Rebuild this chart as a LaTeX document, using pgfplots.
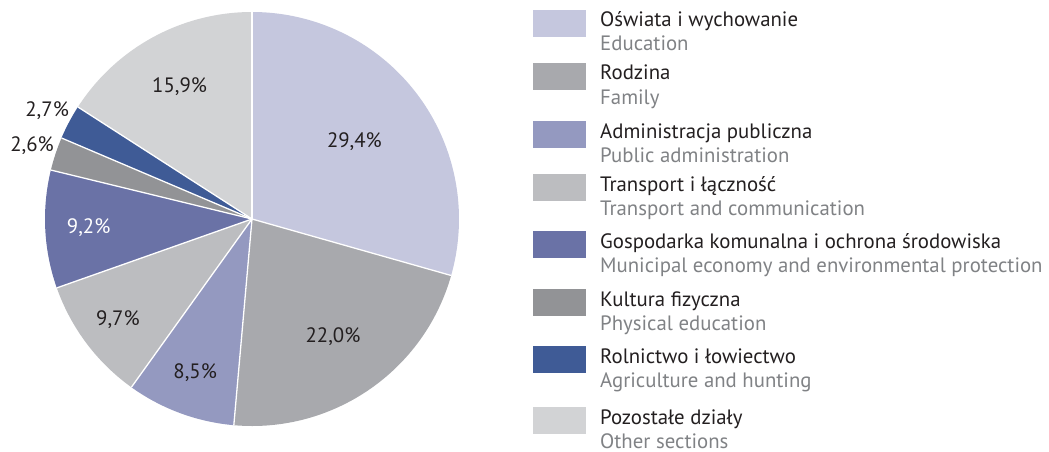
\documentclass[border=0pt]{standalone}
\usepackage{fontspec}
\setmainfont{PT Sans}
\usepackage{pgfplots}
\usepackage{pgfplotstable}
\pgfplotsset{compat=1.18}

\definecolor{cEdu}{HTML}{C5C7DE}
\definecolor{cFam}{HTML}{A8A9AD}
\definecolor{cAdm}{HTML}{9499C0}
\definecolor{cTra}{HTML}{BCBDC0}
\definecolor{cMun}{HTML}{6A72A6}
\definecolor{cPhy}{HTML}{929396}
\definecolor{cAgr}{HTML}{3F5B96}
\definecolor{cOth}{HTML}{D2D3D5}
\definecolor{tdark}{HTML}{231F20}
\definecolor{tgray}{HTML}{808285}

% share (%), fill, label colour, label radius (fraction of pie radius)
\pgfplotstableread{
val  col  tc    r
29.4 cEdu tdark 0.62
22.0 cFam tdark 0.69
8.5  cAdm tdark 0.79
9.7  cTra tdark 0.81
9.2  cMun white 0.79
2.6  cPhy tdark 1.12
2.7  cAgr tdark 1.12
15.9 cOth tdark 0.73
}\piedata

\begin{document}
\fontsize{20.8}{25}\selectfont
\begin{tikzpicture}
\useasboundingbox (0,0) rectangle (1049pt,-452pt);

\begin{axis}[
  at={(252pt,-219pt)}, anchor=center,
  x=207pt, y=207pt,
  xmin=-1, xmax=1, ymin=-1, ymax=1,
  hide axis, clip=false,
]
% wedges, clockwise from 12 o'clock
\def\a{90}
\pgfplotsforeachungrouped \i in {0,...,7}{%
  \pgfplotstablegetelem{\i}{val}\of\piedata \let\v\pgfplotsretval
  \pgfplotstablegetelem{\i}{col}\of\piedata \let\c\pgfplotsretval
  \pgfmathsetmacro\b{\a-3.6*\v}
  \pgfmathsetmacro\xa{cos(\a)}
  \pgfmathsetmacro\ya{sin(\a)}
  \edef\tmp{\noexpand\fill[\c] (axis cs:0,0) -- (axis cs:\xa,\ya)
    arc[start angle=\a, end angle=\b, radius=207pt] -- cycle;}
  \tmp
  \let\a\b
}
% white separators
\def\a{90}
\pgfplotsforeachungrouped \i in {0,...,7}{%
  \pgfplotstablegetelem{\i}{val}\of\piedata \let\v\pgfplotsretval
  \pgfmathsetmacro\xa{cos(\a)}
  \pgfmathsetmacro\ya{sin(\a)}
  \edef\tmp{\noexpand\draw[white, line width=1.3pt] (axis cs:0,0) -- (axis cs:\xa,\ya);}
  \tmp
  \pgfmathsetmacro\a{\a-3.6*\v}
}
% percentage labels
\def\a{90}
\pgfplotsforeachungrouped \i in {0,...,7}{%
  \pgfplotstablegetelem{\i}{val}\of\piedata \let\v\pgfplotsretval
  \pgfplotstablegetelem{\i}{tc}\of\piedata \let\tc\pgfplotsretval
  \pgfplotstablegetelem{\i}{r}\of\piedata \let\rr\pgfplotsretval
  \pgfmathsetmacro\b{\a-3.6*\v}
  \pgfmathsetmacro\xm{\rr*cos((\a+\b)/2)}
  \pgfmathsetmacro\ym{\rr*sin((\a+\b)/2)}
  \edef\tmp{\noexpand\node[text=\tc, inner sep=0pt] at (axis cs:\xm,\ym)
    {\noexpand\pgfmathprintnumber[fixed,fixed zerofill,precision=1,use comma,assume math mode=true]{\v}\noexpand\%};}
  \tmp
  \let\a\b
}
\end{axis}

% legend
\foreach \t/\c/\pl/\en in {
  10/cEdu/Oświata i wychowanie/Education,
  63/cFam/Rodzina/Family,
  121/cAdm/Administracja publiczna/Public administration,
  174/cTra/Transport i łączność/Transport and communication,
  231/cMun/Gospodarka komunalna i ochrona środowiska/Municipal economy and environmental protection,
  289/cPhy/Kultura fizyczna/Physical education,
  346/cAgr/Rolnictwo i łowiectwo/Agriculture and hunting,
  407/cOth/Pozostałe działy/Other sections}{
  \fill[\c] (533pt,{-\t*1pt}) rectangle (586pt,{-(\t+27)*1pt});
  \node[anchor=base west, inner sep=0pt, text=tdark] at (600pt,{-(\t+17)*1pt}) {\pl};
  \node[anchor=base west, inner sep=0pt, text=tgray] at (600pt,{-(\t+41)*1pt}) {\en};
}
\end{tikzpicture}
\end{document}
